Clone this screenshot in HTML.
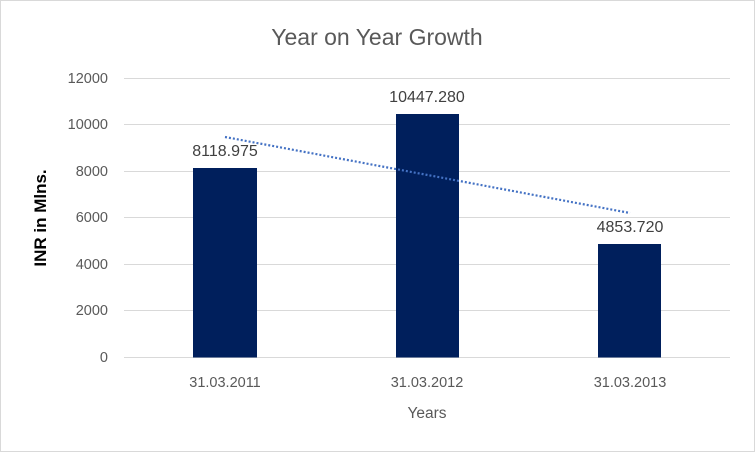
<!DOCTYPE html>
<html><head><meta charset="utf-8"><style>
body{margin:0;background:#fff}
svg{display:block;font-family:"Liberation Sans",sans-serif}
</style></head><body>
<svg width="755" height="452" viewBox="0 0 755 452">
<rect x="0.5" y="0.5" width="754" height="451" fill="#fff" stroke="#d9d9d9"/>
<text x="377" y="45" text-anchor="middle" font-size="23" fill="#595959">Year on Year Growth</text>
<g stroke="#d9d9d9" stroke-width="1">
<line x1="124" x2="730" y1="78.5" y2="78.5"/>
<line x1="124" x2="730" y1="124.5" y2="124.5"/>
<line x1="124" x2="730" y1="171.5" y2="171.5"/>
<line x1="124" x2="730" y1="217.5" y2="217.5"/>
<line x1="124" x2="730" y1="264.5" y2="264.5"/>
<line x1="124" x2="730" y1="310.5" y2="310.5"/>
<line x1="124" x2="730" y1="357.5" y2="357.5"/>
</g>
<g font-size="14.5" fill="#595959" text-anchor="end">
<text x="108" y="83">12000</text>
<text x="108" y="129">10000</text>
<text x="108" y="176">8000</text>
<text x="108" y="222">6000</text>
<text x="108" y="269">4000</text>
<text x="108" y="315">2000</text>
<text x="108" y="362">0</text>
</g>
<text transform="translate(46,218) rotate(-90)" text-anchor="middle" font-size="17" font-weight="bold" fill="#000">INR in Mlns.</text>
<g fill="#001f5c">
<rect x="193" y="168" width="64" height="189.5"/>
<rect x="396" y="114" width="63" height="243.5"/>
<rect x="598" y="244" width="63" height="113.5"/>
</g>
<line x1="225" y1="137" x2="630" y2="213" stroke="#4472c4" stroke-width="2.2" stroke-dasharray="2,2"/>
<g font-size="16" fill="#404040" text-anchor="middle">
<text x="225" y="156">8118.975</text>
<text x="427" y="102">10447.280</text>
<text x="630" y="232">4853.720</text>
</g>
<g font-size="14.5" fill="#595959" text-anchor="middle">
<text x="225" y="387">31.03.2011</text>
<text x="427" y="387">31.03.2012</text>
<text x="630" y="387">31.03.2013</text>
</g>
<text x="427" y="418" text-anchor="middle" font-size="15.5" fill="#595959">Years</text>
</svg>
</body></html>
